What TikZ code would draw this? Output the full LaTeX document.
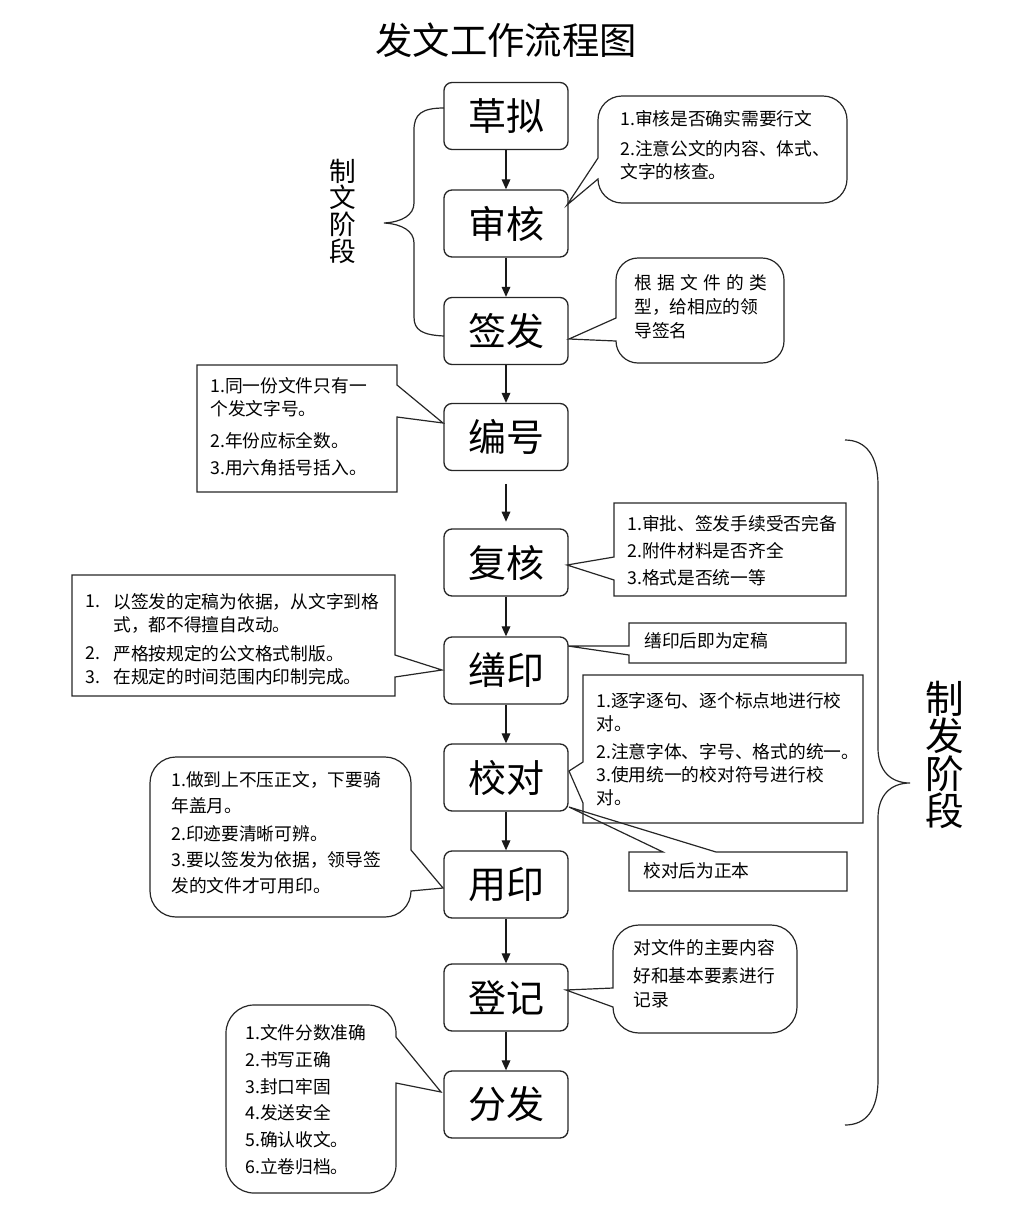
\documentclass[tikz,border=0pt]{standalone}
\usepackage{fontspec}
\setmainfont{Noto Sans CJK SC}
\usetikzlibrary{arrows.meta}
% rounded bubble, wedge on left side: L T R B r y1 y2 tipx tipy
\newcommand{\bubL}[9]{\draw[bub] (#1,#7) -- (#1,{#4-#5}) arc[start angle=180,end angle=90,radius=#5] -- ({#3-#5},#4) arc[start angle=90,end angle=0,radius=#5] -- (#3,{#2+#5}) arc[start angle=0,end angle=-90,radius=#5] -- ({#1+#5},#2) arc[start angle=-90,end angle=-180,radius=#5] -- (#1,#6) -- (#8,#9) -- cycle;}
% rounded bubble, wedge on right side
\newcommand{\bubR}[9]{\draw[bub] (#3,#6) -- (#3,{#2+#5}) arc[start angle=0,end angle=-90,radius=#5] -- ({#1+#5},#2) arc[start angle=-90,end angle=-180,radius=#5] -- (#1,{#4-#5}) arc[start angle=180,end angle=90,radius=#5] -- ({#3-#5},#4) arc[start angle=90,end angle=0,radius=#5] -- (#3,#7) -- (#8,#9) -- cycle;}
% sharp rectangle, wedge on left side: L T R B y1 y2 tipx tipy
\newcommand{\recL}[8]{\draw[bub] (#1,#6) -- (#1,#4) -- (#3,#4) -- (#3,#2) -- (#1,#2) -- (#1,#5) -- (#7,#8) -- cycle;}
% sharp rectangle, wedge on right side
\newcommand{\recR}[8]{\draw[bub] (#3,#5) -- (#3,#2) -- (#1,#2) -- (#1,#4) -- (#3,#4) -- (#3,#6) -- (#7,#8) -- cycle;}
% sharp rectangle, wedge on top side: L T R B x1 x2 tipx tipy
\newcommand{\recT}[8]{\draw[bub] (#5,#2) -- (#1,#2) -- (#1,#4) -- (#3,#4) -- (#3,#2) -- (#6,#2) -- (#7,#8) -- cycle;}
\begin{document}
\begin{tikzpicture}[x=0.75pt,y=-0.75pt,
  box/.style={draw=black!85, line width=1pt, rounded corners=6pt, minimum width=93pt, minimum height=50.25pt, inner sep=0pt, font=\fontsize{28.5pt}{30pt}\selectfont},
  arr/.style={draw=black!90, line width=0.9pt, -{Triangle[length=7.5pt,width=6.5pt]}},
  bub/.style={draw=black!85, line width=0.9pt, line join=miter},
  brace/.style={draw=black!85, line width=0.9pt},
  tx/.style={anchor=base west, align=left, inner sep=0pt, font=\fontsize{13.3pt}{17.25pt}\selectfont}]
\useasboundingbox (0,0) rectangle (1008,1225);

% title
\node[inner sep=0pt, font=\fontsize{28pt}{30pt}\selectfont] (title) at (506,40) {发文工作流程图};

% main boxes
\node[box] (caoni)   at (506,116)    {草拟};
\node[box] (shenhe)  at (506,223.5)  {审核};
\node[box] (qianfa)  at (506,331)    {签发};
\node[box] (bianhao) at (506,437)    {编号};
\node[box] (fuhe)    at (506,562.5)  {复核};
\node[box] (shanyin) at (506,670.5)  {缮印};
\node[box] (jiaodui) at (506,777.5)  {校对};
\node[box] (yongyin) at (506,884.5)  {用印};
\node[box] (dengji)  at (506,997.5)  {登记};
\node[box] (fenfa)   at (506,1104.5) {分发};

% arrows
\draw[arr] (caoni) -- (shenhe);
\draw[arr] (shenhe) -- (qianfa);
\draw[arr] (qianfa) -- (bianhao);
\draw[arr, shorten <=9.5pt, shorten >=5pt] (bianhao) -- (fuhe);
\draw[arr] (fuhe) -- (shanyin);
\draw[arr] (shanyin) -- (jiaodui);
\draw[arr] (jiaodui) -- (yongyin);
\draw[arr] (yongyin) -- (dengji);
\draw[arr] (dengji) -- (fenfa);

% braces
\draw[brace] (444,108) .. controls (422,108) and (414,114) .. (414,130) -- (414,203) .. controls (414,215) and (402,222) .. (384,223) .. controls (402,224) and (414,231) .. (414,243) -- (414,317) .. controls (414,330) and (422,335) .. (444,336);
\node[inner sep=0pt, align=center, font=\fontsize{20pt}{20pt}\selectfont] (zhiwen) at (343,211) {制\\文\\阶\\段};

\draw[brace] (845,440) .. controls (866,440) and (878,456) .. (878,485) -- (878,748) .. controls (878,770) and (890,783) .. (910,783) .. controls (890,783) and (878,796) .. (878,818) -- (878,1080) .. controls (878,1110) and (866,1125) .. (845,1125);
\node[inner sep=0pt, align=center, font=\fontsize{29pt}{28pt}\selectfont] (zhifa) at (945,755) {制\\发\\阶\\段};

% callout 1 (审核)
\bubL{598}{96}{847}{203}{24}{158}{179}{567}{205}
\node[tx] (t1) at (620,178) {1.审核是否确实需要行文\\[5pt]2.注意公文的内容、体式、\\文字的核查。};

% callout 2 (签发)
\bubL{616}{258}{784}{363}{22}{318}{341}{569}{339}
\node[tx, font=\fontsize{13.3pt}{18pt}\selectfont] (t2) at (634,337) {\hbox to 99.75pt{根\hfill 据\hfill 文\hfill 件\hfill 的\hfill 类}\\型，给相应的领\\导签名};

% callout 3 (编号)
\recR{197}{365}{397}{492}{385}{417}{443}{423}
\node[tx] (t3) at (210,474) {1.同一份文件只有一\\个发文字号。\\[6.75pt]2.年份应标全数。\\[3pt]3.用六角括号括入。};

% callout 4 (复核)
\recL{614}{503}{846}{596}{557}{580}{567}{565}
\node[tx, font=\fontsize{13.3pt}{20.25pt}\selectfont] (t4) at (627,584) {1.审批、签发手续受否完备\\2.附件材料是否齐全\\3.格式是否统一等};

% callout 5 (缮印 left)
\recR{72}{575}{395}{696}{655}{677}{442}{670}
\node[tx] (n51) at (85,607) {1.};
\node[tx] (n52) at (85,659) {2.};
\node[tx] (n53) at (85,683) {3.};
\node[tx] (t5) at (113,683) {以签发的定稿为依据，从文字到格\\式，都不得擅自改动。\\[4.5pt]严格按规定的公文格式制版。\\在规定的时间范围内印制完成。};

% callout 6 (缮印 right)
\recL{629}{623}{846}{663}{646}{655}{568}{646}
\node[tx] (t6) at (644,647) {缮印后即为定稿};

% callout 7 (校对 right)
\recL{583}{675}{863}{823}{762}{803}{569}{771}
\node[tx] (t7) at (596,804) {1.逐字逐句、逐个标点地进行校\\对。\\[3.75pt]2.注意字体、字号、格式的统一。\\3.使用统一的校对符号进行校\\对。};

% callout 8 (校对 below)
\recT{629}{852}{847}{891}{663}{716}{569}{807}
\node[tx] (t8) at (643,877) {校对后为正本};

% callout 9 (用印)
\bubR{150}{757}{411}{917}{26}{850}{891}{443}{888}
\node[tx, font=\fontsize{13.3pt}{19.5pt}\selectfont] (t9) at (171,892) {1.做到上不压正文，下要骑\\年盖月。\\[1.5pt]2.印迹要清晰可辨。\\3.要以签发为依据，领导签\\发的文件才可用印。};

% callout 10 (登记)
\bubL{613}{925}{797}{1033}{26}{988}{1007}{566}{990}
\node[tx, font=\fontsize{13.3pt}{18pt}\selectfont] (t10) at (633,1006) {对文件的主要内容\\[3pt]好和基本要素进行\\记录};

% callout 11 (分发)
\bubR{226}{1005}{396}{1193}{28}{1037}{1083}{441}{1092}
\node[tx, font=\fontsize{13.3pt}{20pt}\selectfont] (t11) at (245,1173) {1.文件分数准确\\2.书写正确\\3.封口牢固\\4.发送安全\\5.确认收文。\\6.立卷归档。};
\end{tikzpicture}
\end{document}
